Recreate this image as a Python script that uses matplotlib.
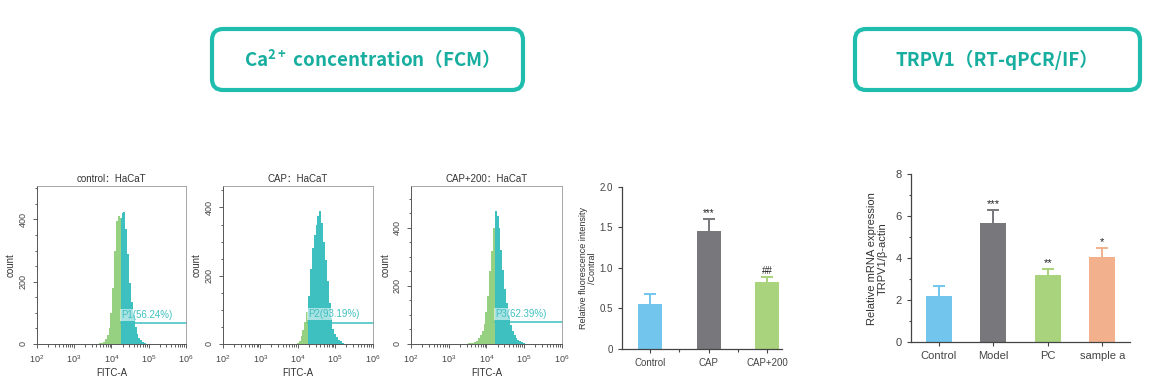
import numpy as np
import matplotlib
matplotlib.use('Agg')
import matplotlib.pyplot as plt
from matplotlib.patches import FancyBboxPatch
from matplotlib.ticker import MultipleLocator, LogLocator, NullFormatter, FixedLocator

plt.rcParams['font.family'] = ['Liberation Sans', 'Noto Sans CJK SC', 'DejaVu Sans']
plt.rcParams['mathtext.fontset'] = 'custom'
plt.rcParams['mathtext.rm'] = 'Liberation Sans'
plt.rcParams['mathtext.bf'] = 'Noto Sans CJK SC:bold'

W, H = 1151, 388
TEAL = '#3fc0c0'
HIST_GREEN = '#96d182'
BOX_TEAL = '#1fbdae'
TEXT_TEAL = '#17ae9f'
AXIS = '#444444'

# ---- flow cytometry histograms (bin centre in log10 FITC-A, counts) ----
ctrl_log = [3.70, 3.75, 3.80, 3.85, 3.90, 3.95, 4.00, 4.05, 4.10, 4.15, 4.20, 4.25, 4.30,
            4.35, 4.40, 4.45, 4.50, 4.55, 4.60, 4.65, 4.70, 4.75, 4.80, 4.85, 4.90, 4.95]
ctrl_count = [2, 4, 8, 15, 28, 50, 100, 180, 300, 395, 412, 405, 420,
              423, 370, 290, 195, 135, 92, 55, 32, 20, 13, 8, 3, 1]

cap_log = [4.00, 4.05, 4.10, 4.15, 4.20, 4.25, 4.30, 4.35, 4.40, 4.45, 4.50, 4.55, 4.60,
           4.65, 4.70, 4.75, 4.80, 4.85, 4.90, 4.95, 5.00, 5.05, 5.10, 5.15, 5.20, 5.25]
cap_count = [3, 10, 22, 40, 65, 95, 140, 220, 280, 320, 350, 375, 390,
             355, 300, 245, 185, 120, 75, 45, 30, 20, 13, 8, 3, 1]

cap200_log = [3.55, 3.60, 3.65, 3.70, 3.75, 3.80, 3.85, 3.90, 3.95, 4.00, 4.05, 4.10, 4.15,
              4.20, 4.25, 4.30, 4.35, 4.40, 4.45, 4.50, 4.55, 4.60, 4.65, 4.70, 4.75, 4.80,
              4.85, 4.90, 4.95, 5.00, 5.05]
cap200_count = [2, 3, 5, 8, 12, 20, 30, 45, 70, 110, 165, 250, 320,
                400, 458, 440, 400, 325, 255, 190, 140, 100, 65, 45, 32, 22,
                15, 10, 6, 3, 1]

hist_titles = ['control：HaCaT', 'CAP：HaCaT', 'CAP+200：HaCaT']
gate_log = [4.26, 4.28, 4.23]
gate_level = [66, 63, 75]
gate_labels = ['P1(56.24%)', 'P2(93.19%)', 'P3(62.39%)']
hist_ymax = [507, 463, 544]

# ---- Ca2+ relative fluorescence ----
ca_groups = ['Control', 'CAP', 'CAP+200']
ca_mean = [0.55, 1.45, 0.82]
ca_err = [0.13, 0.15, 0.07]
ca_marks = ['', '***', '##']

# ---- TRPV1 mRNA ----
trpv_groups = ['Control', 'Model', 'PC', 'sample a']
trpv_mean = [2.2, 5.7, 3.2, 4.08]
trpv_err = [0.47, 0.6, 0.3, 0.4]
trpv_marks = ['', '***', '**', '*']

bar_colors = ['#72c6ee', '#78787c', '#a9d37c', '#f2b18c']


def px_axes(fig, x0, y0, x1, y1):
    return fig.add_axes([x0 / W, 1 - y1 / H, (x1 - x0) / W, (y1 - y0) / H])


def title_box(fig, x0, x1, text):
    y0, y1 = 27, 92
    ax = px_axes(fig, x0, y0, x1, y1)
    w, h = x1 - x0, y1 - y0
    ax.set_xlim(0, w)
    ax.set_ylim(0, h)
    ax.axis('off')
    r = 11
    box = FancyBboxPatch((2 + r, 2 + r), w - 4 - 2 * r, h - 4 - 2 * r,
                         boxstyle='round,pad=%d' % r, fc='white', ec=BOX_TEAL,
                         lw=3.0, clip_on=False)
    ax.add_patch(box)
    ax.text(w / 2, h / 2, text, ha='center', va='center', color=TEXT_TEAL,
            fontsize=13.5, fontweight='bold', family=['Noto Sans CJK SC', 'DejaVu Sans'])


def draw_hist(ax, logc, counts, gate, level, label, title, ymax):
    logc = np.array(logc)
    counts = np.array(counts)
    edges = np.append(logc - 0.025, logc[-1] + 0.025)
    ax.stairs(counts, 10 ** edges, fill=True, color=HIST_GREEN, lw=0)
    right = edges[1:] > gate
    t_edges = np.append(gate, edges[1:][right])
    ax.stairs(counts[right], 10 ** t_edges, fill=True, color=TEAL, lw=0)
    ax.plot([10 ** gate, 1e6], [level, level], color=TEAL, lw=1.1, clip_on=False)
    ax.text(10 ** gate, level + 10, label, color=TEAL, fontsize=7, va='bottom', ha='left',
            bbox=dict(fc='white', ec='none', alpha=0.55, pad=0.6))
    ax.set_xscale('log')
    ax.set_xlim(1e2, 1e6)
    ax.set_ylim(0, ymax)
    ax.xaxis.set_major_locator(FixedLocator([1e2, 1e3, 1e4, 1e5, 1e6]))
    ax.set_xticklabels(['$10^{2}$', '$10^{3}$', '$10^{4}$', '$10^{5}$', '$10^{6}$'])
    ax.xaxis.set_minor_locator(LogLocator(base=10, subs=np.arange(2, 10)))
    ax.xaxis.set_minor_formatter(NullFormatter())
    ax.yaxis.set_major_locator(MultipleLocator(200))
    ax.yaxis.set_minor_locator(MultipleLocator(50))
    ax.tick_params(which='both', direction='out', colors=AXIS, labelsize=6.5, width=0.6)
    ax.tick_params(which='major', length=3)
    ax.tick_params(which='minor', length=1.8)
    plt.setp(ax.get_yticklabels(), rotation=90, va='center')
    for s in ['left', 'bottom']:
        ax.spines[s].set_color('#555555')
        ax.spines[s].set_linewidth(0.7)
    for s in ['top', 'right']:
        ax.spines[s].set_color('#999999')
        ax.spines[s].set_linewidth(0.6)
    ax.set_xlabel('FITC-A', fontsize=7, color='#333333', labelpad=2)
    ax.set_ylabel('count', fontsize=7, color='#333333', labelpad=2)
    ax.set_title(title, fontsize=7, color='#333333', pad=3)


def draw_bars(ax, groups, mean, err, marks, width, fs, mark_off):
    x = np.arange(len(groups))
    ax.bar(x, mean, width=width, color=bar_colors[:len(groups)], zorder=2)
    for i in range(len(groups)):
        line, caps, bars = ax.errorbar(x[i], mean[i], yerr=[[0], [err[i]]],
                                       color=bar_colors[i], capsize=4, elinewidth=1.4,
                                       capthick=1.4, zorder=1)
        caps[0].set_visible(False)
        if marks[i]:
            ax.text(x[i], mean[i] + err[i] + mark_off, marks[i], ha='center', va='bottom',
                    fontsize=fs, color='#222222')
    ax.set_xticks(x)
    ax.set_xticklabels(groups)
    ax.spines['top'].set_visible(False)
    ax.spines['right'].set_visible(False)
    for s in ['left', 'bottom']:
        ax.spines[s].set_color(AXIS)
        ax.spines[s].set_linewidth(0.9)
    ax.tick_params(which='both', direction='out', colors=AXIS, labelsize=fs, width=0.8)
    ax.tick_params(which='major', length=3)
    ax.tick_params(which='minor', length=1.8)


def main():
    fig = plt.figure(figsize=(W / 100, H / 100), dpi=100)

    title_box(fig, 210, 525, r'Ca$^{\mathbf{2+}}$ concentration（FCM）')
    title_box(fig, 853, 1142, 'TRPV1（RT-qPCR/IF）')

    hist_x = [(36.7, 186), (222.7, 372.7), (411, 561.7)]
    hist_data = [(ctrl_log, ctrl_count), (cap_log, cap_count), (cap200_log, cap200_count)]
    for i in range(3):
        ax = px_axes(fig, hist_x[i][0], 186, hist_x[i][1], 344)
        draw_hist(ax, hist_data[i][0], hist_data[i][1], gate_log[i], gate_level[i],
                  gate_labels[i], hist_titles[i], hist_ymax[i])

    # Ca2+ bar chart
    ax = px_axes(fig, 621.7, 186.7, 782, 349)
    draw_bars(ax, ca_groups, ca_mean, ca_err, ca_marks, 0.41, 7, 0.01)
    ax.set_xlim(-0.48, 2.25)
    ax.set_ylim(0, 2.0)
    ax.yaxis.set_major_locator(FixedLocator([0, 0.5, 1.0, 1.5, 2.0]))
    ax.set_yticklabels(['0', '0.5', '1.0', '1.5', '2.0'])
    ax.xaxis.set_minor_locator(FixedLocator([0.5, 1.5]))
    ax.set_ylabel('Relative fluorescence intensity\n/Contral', fontsize=6.5,
                  color='#333333', labelpad=2, linespacing=1.0)

    # TRPV1 bar chart
    ax = px_axes(fig, 911, 174.3, 1130, 342.3)
    draw_bars(ax, trpv_groups, trpv_mean, trpv_err, trpv_marks, 0.47, 8, 0.05)
    ax.set_xlim(-0.51, 3.51)
    ax.set_ylim(0, 8)
    ax.yaxis.set_major_locator(MultipleLocator(2))
    ax.yaxis.set_minor_locator(MultipleLocator(1))
    ax.set_ylabel('Relative mRNA expression\nTRPV1/β-actin', fontsize=8,
                  color='#333333', labelpad=6, linespacing=1.1)

    fig.savefig('out.png', dpi=100)


if __name__ == '__main__':
    main()
